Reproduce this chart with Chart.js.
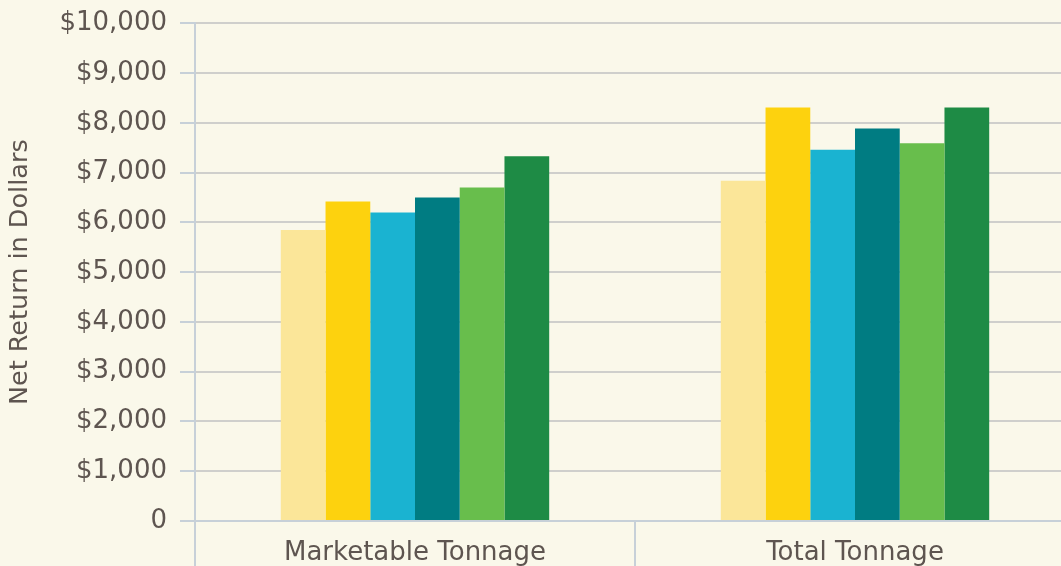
<!DOCTYPE html>
<html>
<head>
<meta charset="utf-8">
<script src="https://cdn.jsdelivr.net/npm/chart.js@4/dist/chart.umd.min.js"></script>
<style>
  html, body { margin: 0; padding: 0; background: #faf8ea; overflow: hidden; }
  #wrap { position: relative; width: 1090px; height: 566px; }
</style>
</head>
<body>
<div id="wrap"><canvas id="c"></canvas></div>
<script>
const categories = ["Marketable Tonnage", "Total Tonnage"];
const seriesNames = ["Series 1", "Series 2", "Series 3", "Series 4", "Series 5", "Series 6"];
const series1 = [5850, 6840];
const series2 = [6420, 8310];
const series3 = [6200, 7460];
const series4 = [6500, 7890];
const series5 = [6700, 7590];
const series6 = [7330, 8310];
const seriesColors = ["#fbe699", "#fdd20e", "#1ab3d1", "#007c82", "#68be4c", "#1e8b45"];
const yTicks = [0, 1000, 2000, 3000, 4000, 5000, 6000, 7000, 8000, 9000, 10000];
const yTitle = "Net Return in Dollars";

const allSeries = [series1, series2, series3, series4, series5, series6];
const textColor = "#5e5550";
const font = { family: "'DejaVu Sans', sans-serif", size: 26 };

new Chart(document.getElementById("c"), {
  type: "bar",
  data: {
    labels: categories,
    datasets: allSeries.map((d, i) => ({
      label: seriesNames[i],
      data: d,
      backgroundColor: seriesColors[i],
      borderWidth: 0,
      categoryPercentage: 0.61,
      barPercentage: 1.0
    }))
  },
  options: {
    responsive: true,
    maintainAspectRatio: false,
    animation: false,
    layout: { padding: { left: 0, right: 15, top: 0, bottom: 0 } },
    plugins: { legend: { display: false }, tooltip: { enabled: false } },
    scales: {
      x: {
        grid: {
          display: true,
          drawOnChartArea: false,
          offset: true,
          color: "#c7d0d8",
          tickColor: "#c7d0d8",
          lineWidth: 2,
          tickLength: 45
        },
        border: { display: true, color: "#c7d0d8", width: 2 },
        ticks: { color: textColor, font: font, padding: -28, maxRotation: 0 },
        afterFit: (s) => { s.height = 45; }
      },
      y: {
        min: 0,
        max: 10000,
        afterBuildTicks: (s) => { s.ticks = yTicks.map(v => ({ value: v })); },
        grid: {
          color: "#cfcfcc",
          tickColor: "#c7d0d8",
          lineWidth: 2,
          tickLength: 15
        },
        border: { display: true, color: "#c7d0d8", width: 2 },
        ticks: {
          color: textColor,
          font: { family: "'DejaVu Sans', sans-serif", size: 26, lineHeight: 0.8 },
          padding: 13,
          callback: (v) => v === 0 ? "0" : "$" + v.toLocaleString("en-US")
        },
        title: {
          display: true,
          text: yTitle,
          color: textColor,
          font: { family: "'DejaVu Sans', sans-serif", size: 25.5 },
          padding: { top: 5, bottom: 0 }
        },
        afterFit: (s) => { s.width = 195; }
      }
    }
  }
});
</script>
</body>
</html>
